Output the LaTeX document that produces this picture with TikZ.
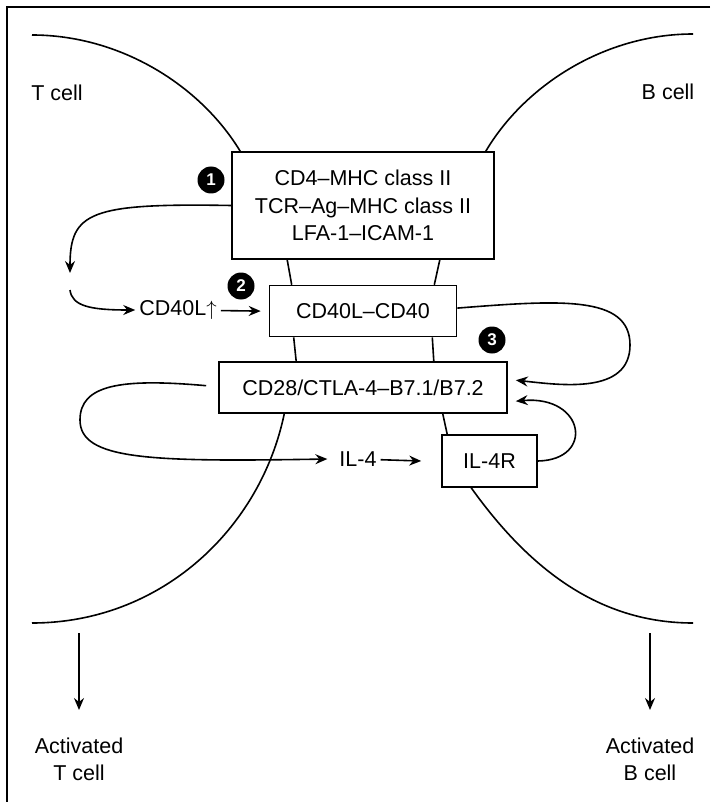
\documentclass[tikz,border=0pt]{standalone}
\usepackage{fontspec}
\setmainfont{Liberation Sans}
\usetikzlibrary{arrows.meta,positioning}

\begin{document}
\begin{tikzpicture}[
      x=1pt, y=-1pt,
      font=\fontsize{21.5}{27.5}\selectfont,
      line width=1.6pt,
      box/.style={draw, align=center, inner sep=0pt},
      badge/.style={circle, fill=black, text=white, inner sep=0pt, minimum size=27pt, font=\fontsize{17}{17}\selectfont\bfseries},
      arrow/.style={-{Stealth[length=12pt, width=10pt, inset=4pt]}}
    ]
    \useasboundingbox (0,0) rectangle (710,802);
    \draw (710,7) -- (7,7) -- (7,802);
    % contact boxes
    \node[box, minimum width=262pt, minimum height=107pt] (adh) at (363,205.5) {CD4--MHC class II\\TCR--Ag--MHC class II\\LFA-1--ICAM-1};
    \node[box, minimum width=187pt, minimum height=51pt, below=25pt of adh] (cd40) {CD40L--CD40};
    \node[box, minimum width=288pt, minimum height=51pt, below=24pt of cd40] (b7) {CD28/CTLA-4--B7.1/B7.2};
    \node[box, minimum width=95pt, minimum height=52pt] (il4r) at (489.5,461) {IL-4R};
    % labels
    \node (cd40l) at (178,310) {CD40L$\uparrow$};
    \node (il4) at (358,459) {IL-4};
    \node (tcell) at (57,93) {T cell};
    \node (bcell) at (668,92) {B cell};
    \node[align=center, inner sep=0pt, anchor=north] (actT) at (79,737) {Activated\\T cell};
    \node[align=center, inner sep=0pt, anchor=north] (actB) at (650,737) {Activated\\B cell};
    \node[badge] (n1) at (211,180) {1};
    \node[badge] (n2) at (241,286) {2};
    \node[badge] (n3) at (492,340) {3};
    % membranes
    \draw (32,35) .. controls (120,35) and (200,85) .. ([xshift=9pt]adh.north west);
    \draw ([xshift=-9pt]adh.north east) .. controls (525,85) and (605,34) .. (693,34);
    \draw ([xshift=56pt]adh.south west) -- ([xshift=23pt]cd40.north west);
    \draw ([xshift=-55pt]adh.south east) -- ([xshift=-23pt]cd40.north east);
    \draw ([xshift=25pt]cd40.south west) -- ([xshift=78pt]b7.north west);
    \draw ([xshift=-25pt]cd40.south east) -- ([xshift=-74pt]b7.north east);
    \draw ([xshift=-65pt]b7.south east) -- ([xshift=6pt]il4r.north west);
    \draw ([xshift=66pt]b7.south west) .. controls (260,530) and (160,623) .. (32,623);
    \draw ([xshift=30pt]il4r.south west) .. controls (530,570) and (600,623) .. (693,623);
    % signals
    \coordinate (cd40lgo) at (70,290);
    \draw[arrow] (adh.west) .. controls (90,203) and (70,212) .. (70,273);
    \draw[arrow] (cd40lgo) .. controls (72,306) and (90,310) .. (cd40l.west);
    \draw[arrow] (cd40l) -- ([xshift=-8pt]cd40.west);
    \draw[arrow] ([yshift=3pt]cd40.east) .. controls (560,300) and (630,295) .. (630,345)
      .. controls (630,395) and (560,385) .. ([xshift=8pt,yshift=7.5pt]b7.east);
    \draw[arrow] ([xshift=-12pt,yshift=2pt]b7.west) .. controls (120,378) and (80,385) .. (80,420)
      .. controls (80,460) and (150,462) .. ([xshift=-8pt]il4.west);
    \draw[arrow] (il4) -- ([xshift=-20pt]il4r.west);
    \draw[arrow] (il4r.east) .. controls (595,460) and (585,395) .. ([xshift=8pt,yshift=-13.5pt]b7.east);
    % outcome
    \coordinate (tout) at (79,633);
    \coordinate (bout) at (650,633);
    \draw[arrow] (tout) -- ([yshift=27pt]actT.north);
    \draw[arrow] (bout) -- ([yshift=27pt]actB.north);
  \end{tikzpicture}
\end{document}
